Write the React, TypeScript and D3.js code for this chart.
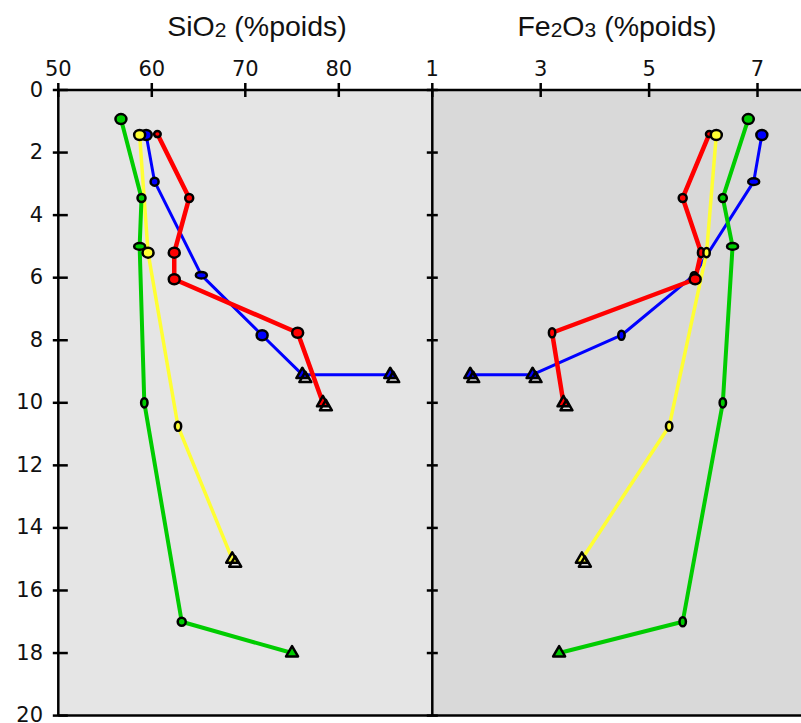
import React from "react";
import * as d3 from "d3";

// ---------- data ----------
const depthTicks = [0, 2, 4, 6, 8, 10, 12, 14, 16, 18, 20];
const sio2Ticks = [50, 60, 70, 80];
const fe2o3Ticks = [1, 3, 5, 7];

const greenDepth = [0.93, 3.45, 5.0, 10.0, 17.0, 18.0];
const greenSiO2 = [56.7, 58.9, 58.7, 59.2, 63.2, 75.0];
const greenFe2O3 = [6.83, 6.36, 6.54, 6.36, 5.62, 3.34];

const yellowDepth = [1.44, 5.2, 10.75, 15.0];
const yellowSiO2 = [58.7, 59.6, 62.8, 68.6];
const yellowFe2O3 = [6.24, 6.06, 5.37, 3.76];

const blueDepth = [1.44, 2.93, 5.92, 7.84, 9.1, 9.1];
const blueSiO2 = [59.4, 60.3, 65.3, 71.8, 76.1, 85.5];
const blueFe2O3 = [7.08, 6.93, 5.83, 4.49, 2.85, 1.7];

const redDepth = [1.41, 3.45, 5.2, 6.05, 7.76, 10.0];
const redSiO2 = [60.6, 64.0, 62.4, 62.4, 75.6, 78.3];
const redFe2O3 = [6.11, 5.62, 5.96, 5.85, 3.21, 3.42];

// ---------- styles ----------
// marker kinds: L large, M medium, S small, W wide ellipse, T tall ellipse, A triangle
const greenMarksSi = ["L", "M", "W", "T", "M", "A"];
const greenMarksFe = ["L", "M", "W", "T", "T", "A"];
const yellowMarksSi = ["L", "L", "T", "A"];
const yellowMarksFe = ["L", "T", "T", "A"];
const blueMarksSi = ["L", "M", "W", "L", "A", "A"];
const blueMarksFe = ["L", "W", "S", "T", "A", "A"];
const redMarksSi = ["S", "M", "L", "L", "L", "A"];
const redMarksFe = ["S", "M", "T", "L", "T", "A"];

const W = 801;
const H = 723;

type Series = {
  color: string;
  width: number;
  depth: number[];
  si: number[];
  fe: number[];
  mSi: string[];
  mFe: string[];
  doubleTri: boolean;
};

const series: Series[] = [
  { color: "#0000ff", width: 3, depth: blueDepth, si: blueSiO2, fe: blueFe2O3, mSi: blueMarksSi, mFe: blueMarksFe, doubleTri: true },
  { color: "#ff0000", width: 4.5, depth: redDepth, si: redSiO2, fe: redFe2O3, mSi: redMarksSi, mFe: redMarksFe, doubleTri: true },
  { color: "#ffff33", width: 3.5, depth: yellowDepth, si: yellowSiO2, fe: yellowFe2O3, mSi: yellowMarksSi, mFe: yellowMarksFe, doubleTri: true },
  { color: "#00cc00", width: 4, depth: greenDepth, si: greenSiO2, fe: greenFe2O3, mSi: greenMarksSi, mFe: greenMarksFe, doubleTri: false },
];

const xSi = d3.scaleLinear().domain([50, 90]).range([58.3, 432.3]);
const xFe = d3.scaleLinear().domain([1, 8]).range([432.3, 811.7]);
const y = d3.scaleLinear().domain([0, 20]).range([90, 715.6]);

const tri = d3.symbol().type(d3.symbolTriangle).size(62)();

function Marker({ x, yy, kind, color, dbl }: { x: number; yy: number; kind: string; color: string; dbl: boolean }) {
  const sw = 2.5;
  if (kind === "A") {
    return (
      <g>
        <path d={tri as string} transform={`translate(${x},${yy})`} fill={color} stroke="#000" strokeWidth={sw} strokeLinejoin="round" />
        {dbl && (
          <path d={tri as string} transform={`translate(${x + 3},${yy + 4})`} fill="none" stroke="#000" strokeWidth={sw} strokeLinejoin="round" />
        )}
      </g>
    );
  }
  let rx = 4.5, ry = 4.5;
  if (kind === "L") { rx = 5.5; ry = 5; }
  else if (kind === "M") { rx = 4; ry = 4; }
  else if (kind === "S") { rx = 3.3; ry = 3; }
  else if (kind === "W") { rx = 5.5; ry = 3.3; }
  else if (kind === "T") { rx = 3.2; ry = 4.6; }
  return <ellipse cx={x} cy={yy} rx={rx} ry={ry} fill={color} stroke="#000" strokeWidth={sw} />;
}

export default function App() {
  const mk = (xs: d3.ScaleLinear<number, number>, vals: number[], depth: number[]) =>
    d3.line<number>()
      .x((v) => xs(v))
      .y((_, i) => y(depth[i]))(vals) as string;

  const axisStroke = 2.5;
  const tickFont = "DejaVu Sans, Verdana, sans-serif";
  const titleFont = "Liberation Sans, Arial, sans-serif";

  return (
    <svg width={W} height={H} style={{ position: "absolute", left: 0, top: 0, background: "#fff" }}>
      {/* backgrounds */}
      <rect x={xSi(50)} y={y(0)} width={xSi(90) - xSi(50)} height={y(20) - y(0)} fill="#e5e5e5" />
      <rect x={xFe(1)} y={y(0)} width={xFe(8) - xFe(1)} height={y(20) - y(0)} fill="#d9d9d9" />

      {/* titles */}
      <text x={257} y={36} textAnchor="middle" fontFamily={titleFont} fontSize={28.5} fill="#111">
        SiO<tspan fontSize={21} dy={1}>2</tspan>
        <tspan dy={-1}> (%poids)</tspan>
      </text>
      <text x={617} y={36} textAnchor="middle" fontFamily={titleFont} fontSize={28.5} fill="#111">
        Fe<tspan fontSize={21} dy={1}>2</tspan>
        <tspan dy={-1}>O</tspan>
        <tspan fontSize={21} dy={1}>3</tspan>
        <tspan dy={-1}> (%poids)</tspan>
      </text>

      {/* series lines */}
      {series.map((s, k) => (
        <g key={"l" + k} fill="none" stroke={s.color} strokeWidth={s.width} strokeLinejoin="round">
          <path d={mk(xSi, s.si, s.depth)} />
          <path d={mk(xFe, s.fe, s.depth)} />
        </g>
      ))}

      {/* markers */}
      {series.map((s, k) => (
        <g key={"m" + k}>
          {s.si.map((v, i) => (
            <Marker key={"s" + i} x={xSi(v)} yy={y(s.depth[i])} kind={s.mSi[i]} color={s.color} dbl={s.doubleTri} />
          ))}
          {s.fe.map((v, i) => (
            <Marker key={"f" + i} x={xFe(v)} yy={y(s.depth[i])} kind={s.mFe[i]} color={s.color} dbl={s.doubleTri} />
          ))}
        </g>
      ))}

      {/* frame */}
      <g stroke="#000" strokeWidth={axisStroke}>
        <line x1={xSi(50)} x2={W + 10} y1={y(0)} y2={y(0)} />
        <line x1={xSi(50)} x2={W + 10} y1={y(20)} y2={y(20)} />
        <line x1={xSi(50)} x2={xSi(50)} y1={y(0)} y2={y(20)} />
        <line x1={xSi(90)} x2={xSi(90)} y1={y(0)} y2={y(20)} />
        {sio2Ticks.map((t) => (
          <line key={"ts" + t} x1={xSi(t)} x2={xSi(t)} y1={y(0) - 7} y2={y(0) + 7} />
        ))}
        {fe2o3Ticks.map((t) => (
          <line key={"tf" + t} x1={xFe(t)} x2={xFe(t)} y1={y(0) - 7} y2={y(0) + 7} />
        ))}
        {depthTicks.map((t) => (
          <g key={"td" + t}>
            <line x1={xSi(50) - 5.5} x2={xSi(50) + 9.5} y1={y(t)} y2={y(t)} />
            <line x1={xSi(90) - 5.5} x2={xSi(90) + 5.5} y1={y(t)} y2={y(t)} />
          </g>
        ))}
      </g>

      {/* tick labels */}
      <g fontFamily={tickFont} fontSize={21} fill="#111">
        {sio2Ticks.map((t) => (
          <text key={"ls" + t} x={xSi(t)} y={76} textAnchor="middle">{t}</text>
        ))}
        {fe2o3Ticks.map((t) => (
          <text key={"lf" + t} x={xFe(t)} y={76} textAnchor="middle">{t}</text>
        ))}
        {depthTicks.map((t) => (
          <text key={"ld" + t} x={43} y={y(t) + 6.5} textAnchor="end">{t}</text>
        ))}
      </g>
    </svg>
  );
}
